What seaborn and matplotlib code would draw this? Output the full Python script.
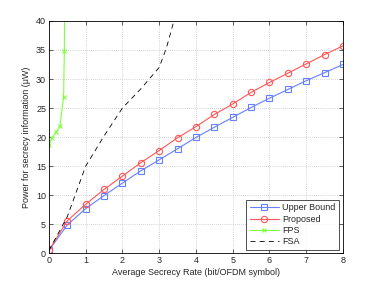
import numpy as np
import pandas as pd
import matplotlib
matplotlib.use("Agg")
import matplotlib.pyplot as plt
import seaborn as sns

# average secrecy rate (bit/OFDM symbol)
rate = [0, 0.5, 1, 1.5, 2, 2.5, 3, 3.5, 4, 4.5, 5, 5.5, 6, 6.5, 7, 7.5, 8]
upper_bound = [0.5, 4.9, 7.7, 9.95, 12.1, 14.2, 16.1, 18.0, 19.95, 21.7,
               23.4, 25.1, 26.7, 28.2, 29.7, 31.1, 32.5]
proposed = [0.5, 5.6, 8.45, 11.0, 13.3, 15.6, 17.7, 19.9, 21.8, 23.9,
            25.7, 27.7, 29.4, 31.0, 32.6, 34.2, 35.7]

fps_rate = [0.0, 0.09, 0.2, 0.3, 0.4, 0.42, 0.43]
fps_power = [18.7, 19.9, 20.9, 21.9, 26.9, 34.8, 45.0]

fsa_rate = [0.0, 0.5, 1.0, 1.5, 2.0, 2.5, 3.0, 3.2, 3.4, 3.5]
fsa_power = [0.5, 6.3, 15.0, 20.2, 25.0, 28.3, 32.0, 35.4, 40.0, 43.0]

sns.set_style("white")
plt.rcParams['font.family'] = ['Liberation Sans', 'DejaVu Sans']
plt.rcParams['font.size'] = 6.5

fig = plt.figure(figsize=(3.79, 2.86), dpi=100)
ax = fig.add_axes([0.129, 0.114, 0.776, 0.813])

blue = '#6680ff'
red = '#ff5555'
green = '#80ff40'

df_ub = pd.DataFrame({'x': rate, 'y': upper_bound})
df_pr = pd.DataFrame({'x': rate, 'y': proposed})
df_fps = pd.DataFrame({'x': fps_rate, 'y': fps_power})
df_fsa = pd.DataFrame({'x': fsa_rate, 'y': fsa_power})

sns.lineplot(data=df_ub, x='x', y='y', ax=ax, color=blue, lw=0.8, marker='s',
             markersize=3.8, markerfacecolor='none', markeredgecolor=blue,
             markeredgewidth=0.8, sort=False, label='Upper Bound')
sns.lineplot(data=df_pr, x='x', y='y', ax=ax, color=red, lw=0.8, marker='o',
             markersize=4.5, markerfacecolor='none', markeredgecolor=red,
             markeredgewidth=0.8, sort=False, label='Proposed')
sns.lineplot(data=df_fps, x='x', y='y', ax=ax, color=green, lw=0.8, marker='x',
             markersize=3.2, markeredgecolor=green, markeredgewidth=0.8,
             sort=False, label='FPS')
sns.lineplot(data=df_fsa, x='x', y='y', ax=ax, color='black', lw=0.6,
             linestyle=(0, (6, 5)), sort=False, label='FSA')

ax.set_xlim(0, 8)
ax.set_ylim(0, 40)
ax.set_xticks(range(0, 9))
ax.set_yticks(range(0, 41, 5))
ax.grid(True, color='#aaaaaa', linestyle=(0, (1, 2)), linewidth=0.5)
ax.tick_params(direction='in', length=3, width=0.5, labelsize=6.5, pad=2,
               top=True, right=True, bottom=True, left=True)
for s in ax.spines.values():
    s.set_color('black')
    s.set_linewidth(0.6)

ax.set_xlabel('Average Secrecy Rate (bit/OFDM symbol)', fontsize=6.5, labelpad=2)
ax.set_ylabel('Power for secrecy information (\u03bcW)', fontsize=6.5, labelpad=4)

leg = ax.legend(loc='lower right', fontsize=6.5, frameon=True, fancybox=False,
                edgecolor='black', borderpad=0.4, labelspacing=0.25,
                handlelength=3.2, handletextpad=0.4, borderaxespad=0.4)
leg.get_frame().set_linewidth(0.6)

fig.savefig('out.png', dpi=100)
